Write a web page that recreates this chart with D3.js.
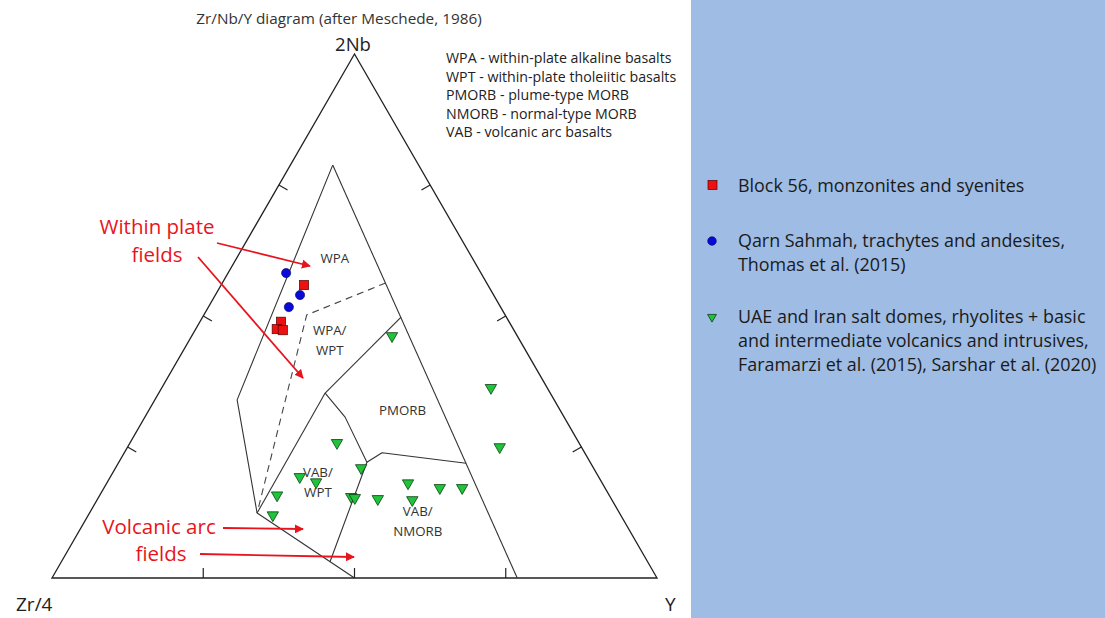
<!DOCTYPE html>
<html>
<head>
<meta charset="utf-8">
<script src="https://cdn.jsdelivr.net/npm/d3@7"></script>
<style>
  html, body { margin: 0; padding: 0; background: #fff; }
  svg { display: block; }
  text { font-family: "Open Sans", Lato, "Liberation Sans", sans-serif; }
</style>
</head>
<body>
<svg id="chart" width="1105" height="618"></svg>
<script>
// Sample compositions, ternary percentages [Zr/4, 2Nb, Y]
const block56 = [
  [30.4, 55.9, 13.7], [37.7, 48.9, 13.4], [39.1, 47.5, 13.4], [38.2, 47.3, 14.5]
];
const qarnSahmah = [
  [32.2, 58.2, 9.6], [32.0, 54.0, 14.0], [35.0, 51.7, 13.3]
];
const saltDomes = [
  [20.7, 46.2, 33.1], [9.3, 36.3, 54.4], [13.5, 25.0, 61.5], [40.0, 25.8, 34.2],
  [38.4, 21.0, 40.6], [49.4, 19.3, 31.3], [47.2, 18.3, 34.5], [54.9, 15.8, 29.3],
  [42.8, 15.5, 41.7], [42.3, 15.3, 42.4], [38.6, 15.1, 46.3], [32.1, 18.1, 49.8],
  [33.0, 14.9, 52.1], [27.3, 17.2, 55.5], [23.6, 17.2, 59.2], [57.5, 12.0, 30.5]
];

// Field boundaries after Meschede (1986), ternary [Zr/4, 2Nb, Y]
const outerRight = [[14.2, 78.8, 7.0], [23.1, 0, 76.9]];
const outerLeft = [[14.2, 78.8, 7.0], [52.4, 34.0, 13.6], [59.9, 12.4, 27.7], [50, 0, 50]];
const wptPmorb = [[17.4, 49.8, 32.8], [37.2, 35.3, 27.5]];
const vabWptLeft = [[37.2, 35.3, 27.5], [59.9, 12.4, 27.7]];
const vabWptRight = [[37.2, 35.3, 27.5], [36.2, 30.7, 33.1], [36.9, 22.1, 41.0], [52.5, 3.1, 44.4]];
const pmorbNmorb = [[36.9, 22.1, 41.0], [33.5, 23.9, 42.6], [20.6, 21.9, 57.5]];
const wpaWpt = [[16.7, 56.3, 27.0], [32.8, 50.2, 17.0], [59.9, 12.4, 27.7]];

// Field names and where they sit, ternary [Zr/4, 2Nb, Y]
const fieldNames = [["WPA"], ["WPA/", "WPT"], ["PMORB"], ["VAB/", "WPT"], ["VAB/", "NMORB"]];
const fieldSpots = [
  [22.7, 61.1, 16.2], [31.3, 45.4, 23.2], [26.0, 32.1, 41.9], [46.9, 18.3, 34.8], [34.1, 10.9, 55.0]
];

const tickValues = [25, 50, 75];
const apexLabels = ["Zr/4", "2Nb", "Y"];
const abbreviations = [
  "WPA - within-plate alkaline basalts",
  "WPT - within-plate tholeiitic basalts",
  "PMORB - plume-type MORB",
  "NMORB - normal-type MORB",
  "VAB - volcanic arc basalts"
];
const legendNames = [
  ["Block 56, monzonites and syenites"],
  ["Qarn Sahmah, trachytes and andesites,", "Thomas et al. (2015)"],
  ["UAE and Iran salt domes, rhyolites + basic", "and intermediate volcanics and intrusives,", "Faramarzi et al. (2015), Sarshar et al. (2020)"]
];

const svg = d3.select("#chart");

// Ternary projection: horizontal position from Y + Nb/2, vertical from Nb
const xs = d3.scaleLinear().domain([0, 100]).range([52, 657]);
const ys = d3.scaleLinear().domain([0, 100]).range([578, 54]);
const px = d => xs(d[2] + d[1] / 2);
const py = d => ys(d[1]);
const line = d3.line().x(px).y(py);

// Right-hand legend panel
svg.append("rect").attr("x", 691).attr("y", 0).attr("width", 414).attr("height", 618)
  .attr("fill", "#9fbce4");

// Title
svg.append("text").attr("x", 339).attr("y", 23.5).attr("text-anchor", "middle")
  .attr("font-size", 15.3).attr("fill", "#333").text("Zr/Nb/Y diagram (after Meschede, 1986)");

// Outer triangle
const corners = [[100, 0, 0], [0, 0, 100], [0, 100, 0]];
svg.append("path").attr("d", line(corners) + "Z")
  .attr("fill", "none").attr("stroke", "#222").attr("stroke-width", 1.3);

// Ticks on each side, pointing inward
const sides = [
  { at: v => [100 - v, 0, v], nx: 0, ny: -1 },
  { at: v => [100 - v, v, 0], nx: 0.866, ny: 0.5 },
  { at: v => [0, v, 100 - v], nx: -0.866, ny: 0.5 }
];
sides.forEach(s => {
  svg.append("g").selectAll("line").data(tickValues).join("line")
    .attr("x1", v => px(s.at(v))).attr("y1", v => py(s.at(v)))
    .attr("x2", v => px(s.at(v)) + s.nx * 10).attr("y2", v => py(s.at(v)) + s.ny * 10)
    .attr("stroke", "#222").attr("stroke-width", 1.2);
});

// Apex labels
svg.append("text").attr("x", 16).attr("y", 611).attr("font-size", 19).attr("fill", "#222").text(apexLabels[0]);
svg.append("text").attr("x", 353).attr("y", 51).attr("text-anchor", "middle").attr("font-size", 18.5).attr("fill", "#222").text(apexLabels[1]);
svg.append("text").attr("x", 665).attr("y", 611).attr("font-size", 19).attr("fill", "#222").text(apexLabels[2]);

// Field boundaries
const solid = [outerRight, outerLeft, wptPmorb, vabWptLeft, vabWptRight, pmorbNmorb];
svg.append("g").selectAll("path").data(solid).join("path")
  .attr("d", line).attr("fill", "none").attr("stroke", "#333").attr("stroke-width", 1.1)
  .attr("stroke-linejoin", "round");
svg.append("path").attr("d", line(wpaWpt)).attr("fill", "none")
  .attr("stroke", "#444").attr("stroke-width", 1.1).attr("stroke-dasharray", "7,5");

// Field names
const fl = svg.append("g").selectAll("text").data(fieldNames).join("text")
  .attr("font-size", 13.3).attr("fill", "#333").attr("text-anchor", "middle")
  .attr("transform", (d, i) => `translate(${px(fieldSpots[i])},${py(fieldSpots[i])})`);
fl.selectAll("tspan").data(d => d.map((t, j) => ({ t, j, n: d.length }))).join("tspan")
  .attr("x", 0).attr("y", d => (d.j - (d.n - 1) / 2) * 20 + 4.8).text(d => d.t);

// Abbreviation key
svg.append("g").selectAll("text").data(abbreviations).join("text")
  .attr("x", 446).attr("y", (d, i) => 63 + i * 18.5)
  .attr("font-size", 14.2).attr("fill", "#222").text(d => d);

// Red annotations
const red = "#e8141c";
const defs = svg.append("defs");
defs.append("marker").attr("id", "head").attr("viewBox", "0 0 10 10")
  .attr("refX", 9).attr("refY", 5).attr("markerWidth", 5).attr("markerHeight", 5)
  .attr("orient", "auto").attr("markerUnits", "strokeWidth")
  .append("path").attr("d", "M0,0L10,5L0,10Z").attr("fill", red);

const arrows = [
  [[217, 243], [310, 266]],
  [[198, 257], [303, 378]],
  [[223, 528], [303, 529]],
  [[200, 554], [354, 557]]
];
svg.append("g").selectAll("line").data(arrows).join("line")
  .attr("x1", d => d[0][0]).attr("y1", d => d[0][1])
  .attr("x2", d => d[1][0]).attr("y2", d => d[1][1])
  .attr("stroke", red).attr("stroke-width", 1.8).attr("marker-end", "url(#head)");

const notes = [
  { t: "Within plate", x: 157, y: 234 },
  { t: "fields", x: 157, y: 262 },
  { t: "Volcanic arc", x: 159, y: 534 },
  { t: "fields", x: 161, y: 561 }
];
svg.append("g").selectAll("text").data(notes).join("text")
  .attr("x", d => d.x).attr("y", d => d.y).attr("text-anchor", "middle")
  .attr("font-size", 20.5).attr("fill", red).text(d => d.t);

// Sample markers
const tri = d3.symbol().type(d3.symbolTriangle).size(56);
svg.append("g").selectAll("path").data(saltDomes).join("path")
  .attr("d", tri)
  .attr("transform", d => `translate(${px(d)},${py(d)}) rotate(180)`)
  .attr("fill", "#1fc43a").attr("stroke", "#0d3d15").attr("stroke-width", 0.8);

svg.append("g").selectAll("circle").data(qarnSahmah).join("circle")
  .attr("cx", px).attr("cy", py).attr("r", 4.6)
  .attr("fill", "#0a0ad8").attr("stroke", "#000060").attr("stroke-width", 0.6);

svg.append("g").selectAll("rect").data(block56).join("rect")
  .attr("x", d => px(d) - 4.6).attr("y", d => py(d) - 4.6)
  .attr("width", 9.2).attr("height", 9.2)
  .attr("fill", "#ee1111").attr("stroke", "#500").attr("stroke-width", 0.7);

// Legend
const lg = svg.append("g");
const legendTop = [185, 240, 316];
lg.append("rect").attr("x", 708).attr("y", legendTop[0] - 4.5).attr("width", 9).attr("height", 9)
  .attr("fill", "#ee1111").attr("stroke", "#500").attr("stroke-width", 0.7);
lg.append("circle").attr("cx", 712).attr("cy", legendTop[1] + 1).attr("r", 4.3)
  .attr("fill", "#0a0ad8").attr("stroke", "#000060").attr("stroke-width", 0.6);
lg.append("path").attr("d", d3.symbol().type(d3.symbolTriangle).size(34))
  .attr("transform", `translate(712,${legendTop[2] + 1}) rotate(180)`)
  .attr("fill", "#1fc43a").attr("stroke", "#0d3d15").attr("stroke-width", 0.8);
legendNames.forEach((lines, i) => {
  lg.append("g").selectAll("text").data(lines).join("text")
    .attr("x", 738).attr("y", (d, j) => legendTop[i] + 6.5 + j * 24)
    .attr("font-size", 17.9).attr("fill", "#1a1a1a").text(d => d);
});
</script>
</body>
</html>
